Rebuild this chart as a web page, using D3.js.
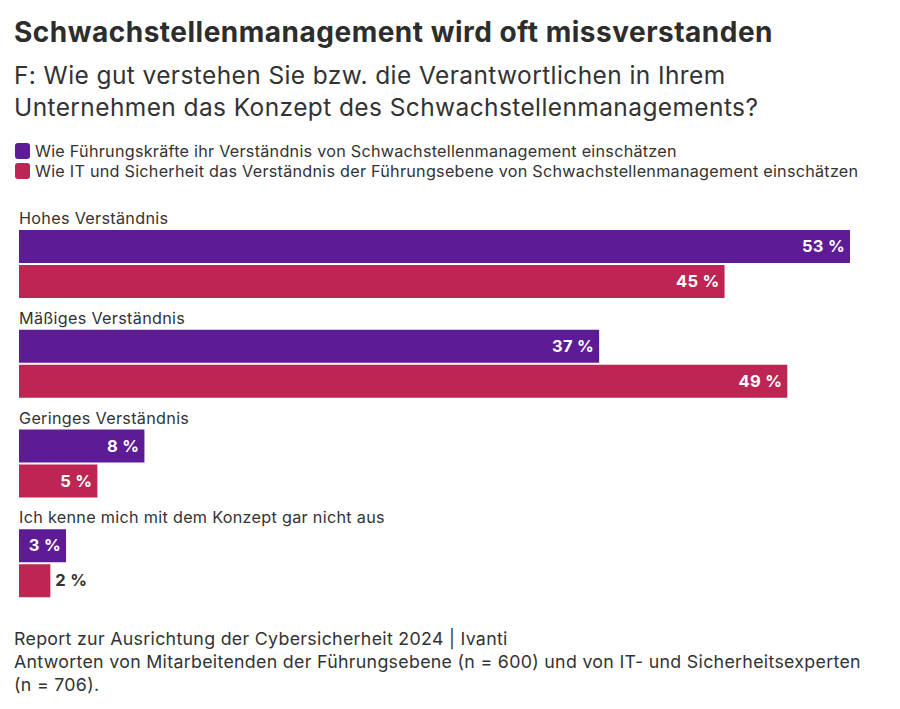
<!DOCTYPE html>
<html><head><meta charset="utf-8">
<script src="https://cdn.jsdelivr.net/npm/d3@7"></script>
<style>body{margin:0;background:#fff;font-family:Inter,"Noto Sans",sans-serif;color:#333}</style>
</head><body>
<svg id="chart" width="900" height="709"></svg>
<script>
const categories = ["Hohes Verständnis", "Mäßiges Verständnis", "Geringes Verständnis", "Ich kenne mich mit dem Konzept gar nicht aus"];
const seriesNames = ["Wie Führungskräfte ihr Verständnis von Schwachstellenmanagement einschätzen",
  "Wie IT und Sicherheit das Verständnis der Führungsebene von Schwachstellenmanagement einschätzen"];
const leaders = [53, 37, 8, 3];
const itSec = [45, 49, 5, 2];
const colors = ["#5e1b96", "#bd2653"];

const svg = d3.select("#chart");

svg.append("text").attr("x", 14).attr("y", 42).attr("font-size", 28).attr("letter-spacing", 0.5)
  .attr("font-weight", 700).attr("fill", "#2d2d2d").text("Schwachstellenmanagement wird oft missverstanden");
["F: Wie gut verstehen Sie bzw. die Verantwortlichen in Ihrem", "Unternehmen das Konzept des Schwachstellenmanagements?"]
  .forEach((t, i) => svg.append("text").attr("x", 14).attr("y", 84 + i * 32).attr("font-size", 24.5)
    .attr("letter-spacing", 0.4).attr("fill", "#333").text(t));

seriesNames.forEach((t, i) => {
  svg.append("rect").attr("x", 15).attr("y", 143 + i * 20).attr("width", 15).attr("height", 16)
    .attr("rx", 3).attr("fill", colors[i]);
  svg.append("text").attr("x", 35).attr("y", 157 + i * 20).attr("font-size", 16.2)
    .attr("letter-spacing", 0.25).attr("fill", "#333").text(t);
});

const x = d3.scaleLinear().domain([0, 53]).range([19, 850]);
const groupY = d3.scaleBand().domain(categories).range([206, 605]).paddingInner(0);

categories.forEach((c, i) => {
  const g0 = groupY(c);
  svg.append("text").attr("x", 19).attr("y", g0 + 18).attr("font-size", 16.2).attr("letter-spacing", 0.3)
    .attr("fill", "#333").text(c);
  [leaders[i], itSec[i]].forEach((v, s) => {
    const y = g0 + 24 + s * 35;
    const w = x(v) - x(0);
    const inside = w > 40;
    svg.append("rect").attr("x", x(0)).attr("y", y).attr("width", w).attr("height", 33).attr("fill", colors[s]);
    svg.append("text").attr("x", inside ? x(v) - 5 : x(v) + 5).attr("y", y + 22)
      .attr("text-anchor", inside ? "end" : "start").attr("font-size", 16.5).attr("font-weight", 700)
      .attr("letter-spacing", 0.3).attr("fill", inside ? "#fff" : "#333").text(v + " %");
  });
});

["Report zur Ausrichtung der Cybersicherheit 2024 | Ivanti",
 "Antworten von Mitarbeitenden der Führungsebene (n = 600) und von IT- und Sicherheitsexperten",
 "(n = 706)."].forEach((t, i) => svg.append("text").attr("x", 14).attr("y", 645 + i * 23)
   .attr("font-size", 17.8).attr("letter-spacing", 0.3).attr("fill", "#333").text(t));
</script>
</body></html>
